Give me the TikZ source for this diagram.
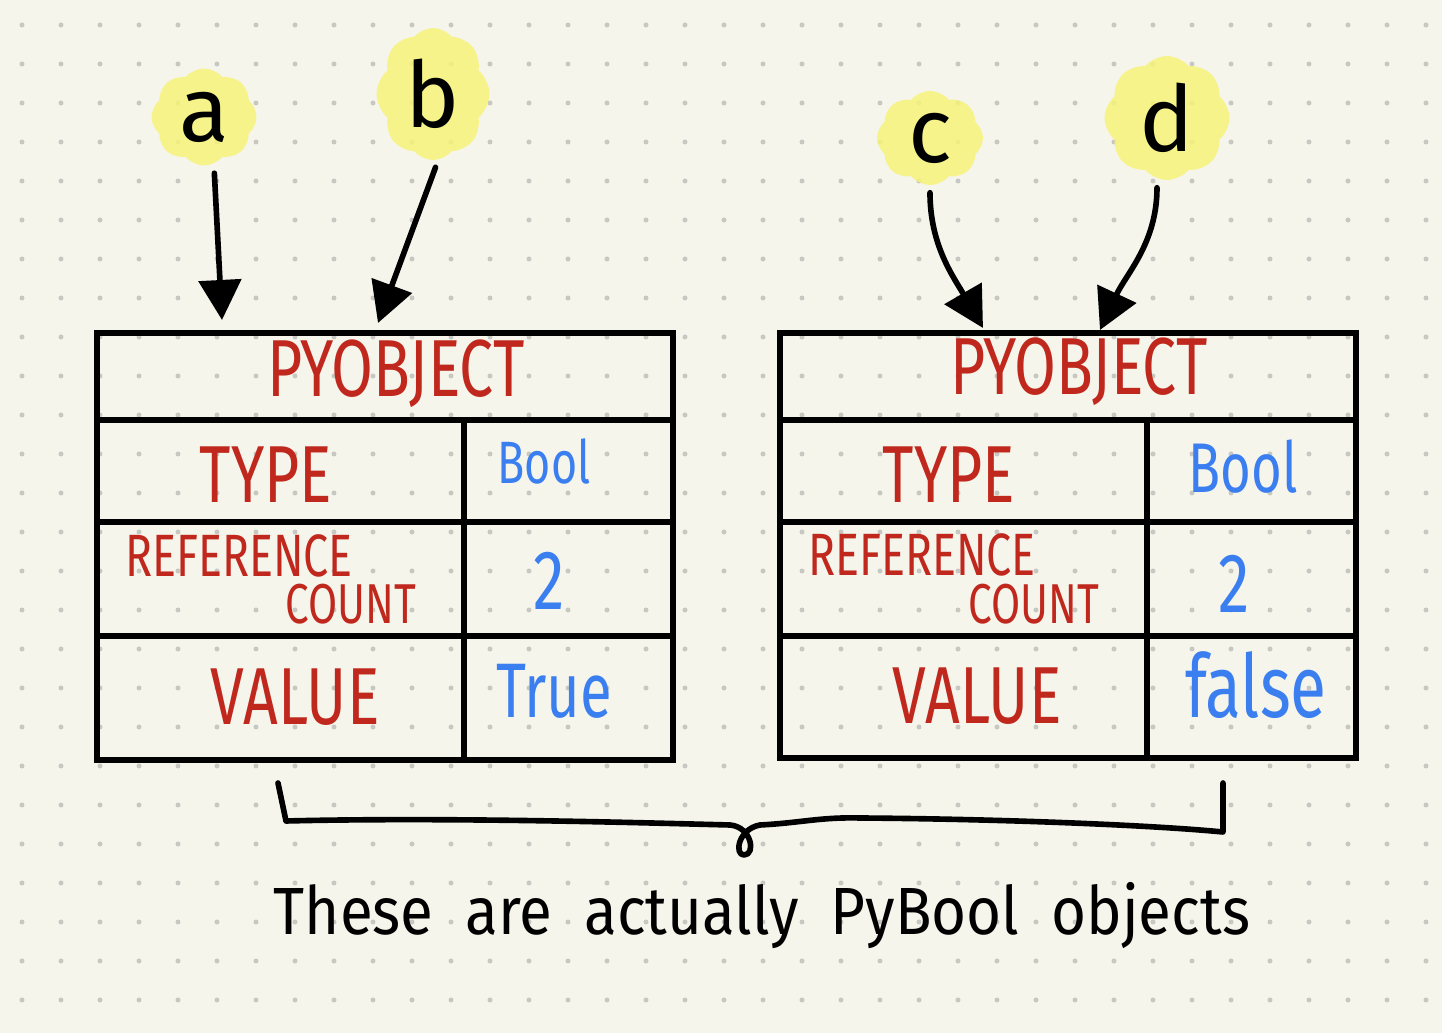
\documentclass[tikz,border=0pt]{standalone}
\usepackage{fontspec}
\usepackage{tikz}
\usetikzlibrary{arrows.meta,shapes.symbols}

\newfontfamily\hfont[FakeStretch=0.75]{Fira Sans}
\newfontfamily\pfont{Fira Sans}
\newfontfamily\cfont[FakeStretch=0.9]{Fira Sans}
\newcommand{\widewords}{\spaceskip=0.32cm\relax}

\definecolor{paper}{RGB}{245,245,236}
\definecolor{griddot}{RGB}{200,200,194}
\definecolor{marker}{RGB}{245,243,121}
\definecolor{fieldred}{RGB}{192,40,30}
\definecolor{valblue}{RGB}{58,126,240}

\tikzset{
    frame/.style={draw=black, line width=1.6pt},
    blob/.style={shape=cloud, cloud puffs=8, cloud puff arc=100, fill=marker, fill opacity=0.85, text opacity=1, inner sep=0pt, font=\pfont\fontsize{26}{28}\selectfont},
    ptr/.style={draw=black, line width=1.6pt, line cap=round, -{Triangle[length=4mm,width=4.2mm]}, shorten <=2pt},
    fieldlbl/.style={text=fieldred, inner sep=0pt, font=\hfont\fontsize{#1}{#1}\selectfont},
    vallbl/.style={text=valblue, inner sep=0pt, font=\hfont\fontsize{#1}{#1}\selectfont},
    notetext/.style={anchor=base, inner sep=0pt, font=\cfont\fontsize{19}{22}\selectfont}
}

\begin{document}
\begin{tikzpicture}
    \useasboundingbox (0,0) rectangle (14.42,10.33);
    \fill[paper] (0,0) rectangle (14.42,10.33);
    % dot grid of the notebook page
    \foreach \i in {0,...,36}
        \foreach \j in {0,...,25}
            \fill[griddot] (0.22+0.39*\i,10.08-0.39*\j) circle (0.025);

    % highlighted names
    \node[blob, minimum width=1.05cm, minimum height=0.97cm] at (2.04,9.16) (a) {a};
    \node[blob, minimum width=1.13cm, minimum height=1.32cm] at (4.33,9.39) (b) {b};
    \node[blob, minimum width=1.06cm, minimum height=0.94cm] at (9.30,8.95) (c) {c};
    \node[blob, minimum width=1.25cm, minimum height=1.24cm] at (11.67,9.15) (d) {d};

    % left object
    \draw[frame] (0.97,7.00) rectangle (6.73,2.73);
    \draw[frame] (0.97,6.13) -- (6.73,6.13);
    \draw[frame] (0.97,5.11) -- (6.73,5.11);
    \draw[frame] (0.97,3.97) -- (6.73,3.97);
    \draw[frame] (4.64,6.13) -- (4.64,2.73);
    \node[fieldlbl=23] at (3.96,6.59) (objL) {PYOBJECT};
    \node[fieldlbl=23] at (2.66,5.58) (typeL) {TYPE};
    \node[fieldlbl=17] at (2.39,4.77) (refL) {REFERENCE};
    \node[fieldlbl=16] at (3.51,4.29) (cntL) {COUNT};
    \node[fieldlbl=23] at (2.95,3.36) (valL) {VALUE};
    \node[vallbl=17] at (5.44,5.72) (boolL) {Bool};
    \node[vallbl=24] at (5.49,4.52) (rcL) {2};
    \node[vallbl=22] at (5.54,3.42) (trueL) {True};

    % right object
    \draw[frame] (7.80,7.00) rectangle (13.56,2.75);
    \draw[frame] (7.80,6.13) -- (13.56,6.13);
    \draw[frame] (7.80,5.11) -- (13.56,5.11);
    \draw[frame] (7.80,3.97) -- (13.56,3.97);
    \draw[frame] (11.47,6.13) -- (11.47,2.75);
    \node[fieldlbl=23] at (10.79,6.61) (objR) {PYOBJECT};
    \node[fieldlbl=23] at (9.49,5.58) (typeR) {TYPE};
    \node[fieldlbl=17] at (9.22,4.78) (refR) {REFERENCE};
    \node[fieldlbl=16] at (10.34,4.29) (cntR) {COUNT};
    \node[fieldlbl=23] at (9.77,3.37) (valR) {VALUE};
    \node[vallbl=20] at (12.43,5.66) (boolR) {Bool};
    \node[vallbl=24] at (12.34,4.49) (rcR) {2};
    \node[vallbl=25] at (12.56,3.48) (falseR) {false};

    % where the pointers land
    \coordinate (tipA) at (2.22,7.13);
    \coordinate (tipB) at (3.78,7.10);
    \coordinate (tipC) at (9.83,7.05);
    \coordinate (tipD) at (11.00,7.03);
    \draw[ptr] ([xshift=1mm]a.south) -- (tipA);
    \draw[ptr] ([xshift=0.5mm]b.south) -- (tipB);
    \draw[ptr] (c.south) to[out=-90, in=120] (tipC);
    \draw[ptr] ([xshift=-1mm]d.south) to[out=-90, in=65] (tipD);

    % brace under both objects
    \draw[frame, line cap=round, line join=round] (2.78,2.50) -- (2.86,2.12)
        .. controls (4.5,2.16) and (6.5,2.10) .. (7.30,2.08)
        .. controls (7.52,2.06) and (7.56,1.78) .. (7.44,1.78)
        .. controls (7.34,1.78) and (7.38,2.04) .. (7.60,2.08)
        .. controls (8.0,2.10) and (8.2,2.16) .. (8.6,2.15)
        .. controls (10,2.14) and (11.5,2.08) .. (12.23,2.01) -- (12.23,2.50);
    \node[notetext] at (7.62,0.98) (note) {\widewords These are actually PyBool objects};
\end{tikzpicture}
\end{document}
